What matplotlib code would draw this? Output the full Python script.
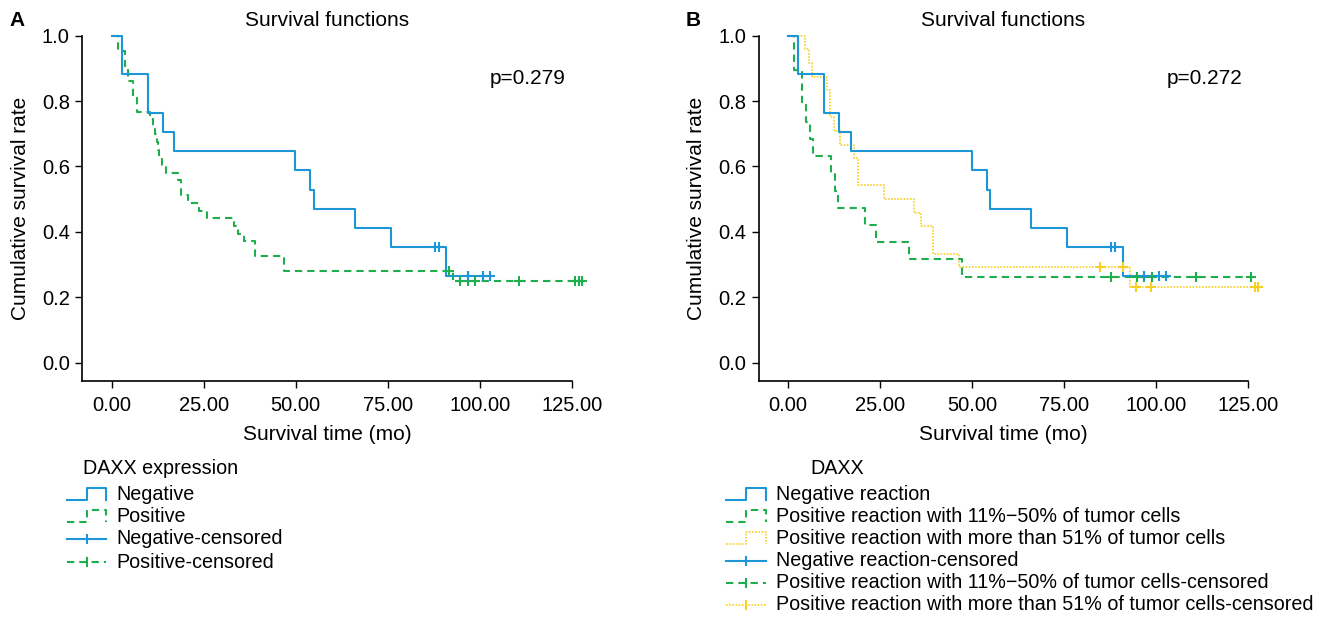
import matplotlib
matplotlib.use("Agg")
import matplotlib.pyplot as plt
from matplotlib.lines import Line2D

plt.rcParams['font.family'] = ['Liberation Sans', 'DejaVu Sans']

# ---------------- data ----------------
x_ticks = [0, 25, 50, 75, 100, 125]
x_tick_labels = ['0.00', '25.00', '50.00', '75.00', '100.00', '125.00']
y_ticks = [0.0, 0.2, 0.4, 0.6, 0.8, 1.0]
y_tick_labels = ['0.0', '0.2', '0.4', '0.6', '0.8', '1.0']

# Panel A / B : negative group (same curve in both panels)
neg_times = [0, 2.7, 9.8, 13.9, 17.0, 49.9, 54.0, 54.9, 66.0, 75.8, 90.9]
neg_surv = [1.0, 0.882, 0.765, 0.706, 0.647, 0.588, 0.529, 0.471, 0.412, 0.353, 0.265]
neg_end = 102.8
neg_cens_t = [87.8, 88.8, 96.7, 100.9, 102.8]
neg_cens_s = [0.353, 0.353, 0.265, 0.265, 0.265]

# Panel A : positive group
pos_times = [0, 1.8, 3.6, 4.5, 5.8, 6.8, 10.5, 11.3, 11.8, 12.2, 12.6, 12.9, 13.7,
             14.8, 17.9, 18.8, 20.8, 23.8, 26.0, 33.2, 34.3, 36.0, 38.9, 46.7, 92.6]
pos_surv = [1.0, 0.953, 0.907, 0.860, 0.814, 0.767, 0.744, 0.721, 0.698, 0.674, 0.651,
            0.628, 0.605, 0.581, 0.558, 0.512, 0.488, 0.465, 0.442, 0.419, 0.395,
            0.372, 0.326, 0.279, 0.251]
pos_end = 128.5
pos_cens_t = [91.6, 94.6, 96.7, 98.6, 110.7, 125.9, 126.9, 127.9]
pos_cens_s = [0.279, 0.251, 0.251, 0.251, 0.251, 0.251, 0.251, 0.251]

# Panel B : positive 11%-50%
p50_times = [0, 1.7, 3.9, 5.0, 5.9, 6.7, 11.7, 12.8, 13.6, 21.0, 24.0, 33.0, 47.3]
p50_surv = [1.0, 0.895, 0.789, 0.737, 0.684, 0.632, 0.579, 0.526, 0.474, 0.421,
            0.368, 0.316, 0.263]
p50_end = 126.3
p50_cens_t = [87.7, 94.7, 96.7, 98.8, 110.8, 125.8]
p50_cens_s = [0.263, 0.263, 0.263, 0.263, 0.263, 0.263]

# Panel B : positive > 51%
p51_times = [0, 4.6, 5.7, 6.6, 10.6, 11.3, 12.5, 14.2, 17.9, 19.0, 26.1, 34.2,
             36.2, 39.3, 46.4, 92.9]
p51_surv = [1.0, 0.958, 0.917, 0.875, 0.833, 0.750, 0.708, 0.667, 0.625, 0.542,
            0.500, 0.458, 0.417, 0.333, 0.292, 0.233]
p51_end = 128.2
p51_cens_t = [84.7, 91.0, 94.6, 98.7, 127.0, 127.8]
p51_cens_s = [0.292, 0.292, 0.233, 0.233, 0.233, 0.233]

p_value_A = 'p=0.279'
p_value_B = 'p=0.272'
legend_title_A = 'DAXX expression'
legend_labels_A = ['Negative', 'Positive', 'Negative-censored', 'Positive-censored']
legend_title_B = 'DAXX'
legend_labels_B = ['Negative reaction',
                   'Positive reaction with 11%\u221250% of tumor cells',
                   'Positive reaction with more than 51% of tumor cells',
                   'Negative reaction-censored',
                   'Positive reaction with 11%\u221250% of tumor cells-censored',
                   'Positive reaction with more than 51% of tumor cells-censored']

# ---------------- style ----------------
W, H = 1333, 619
BLUE = '#1c96d7'
GREEN = '#1fae4c'
YELLOW = '#f7cf22'
SOLID = '-'
DASH = (0, (3.5, 2.4))
DOT = (0, (1.0, 0.9))
LW = 1.5

fig = plt.figure(figsize=(W / 100, H / 100), dpi=100)


def px_axes(l, t, r, b):
    return fig.add_axes([l / W, 1 - b / H, (r - l) / W, (b - t) / H])


def fx(x):
    return x / W


def fy(y):
    return 1 - y / H


axA = px_axes(82.3, 35.7, 571.8, 381)
axB = px_axes(758.6, 35.7, 1248.1, 381)


def style(ax, ptext):
    ax.set_xlim(-8, 125)
    ax.set_ylim(-0.056, 1.0)
    for s in ('top', 'right'):
        ax.spines[s].set_visible(False)
    for s in ('left', 'bottom'):
        ax.spines[s].set_linewidth(1.2)
        ax.spines[s].set_color('black')
    ax.set_xticks(x_ticks)
    ax.set_xticklabels(x_tick_labels)
    ax.set_yticks(y_ticks)
    ax.set_yticklabels(y_tick_labels)
    ax.tick_params(axis='both', length=5, width=1.0, labelsize=14.5, colors='black')
    ax.tick_params(axis='x', pad=6)
    ax.tick_params(axis='y', pad=4)
    ax.set_title('Survival functions', fontsize=15, pad=7)
    ax.set_xlabel('Survival time (mo)', fontsize=15)
    ax.set_ylabel('Cumulative survival rate', fontsize=15)
    ax.xaxis.set_label_coords(0.5, -0.128)
    ax.yaxis.set_label_coords(-0.107, 0.5)
    ax.text(0.833, 0.861, ptext, transform=ax.transAxes, fontsize=15, va='baseline')


def km(ax, t, s, end, ct, cs, color, ls, lw=LW):
    ax.step(list(t) + [end], list(s) + [s[-1]], where='post', color=color,
            linestyle=ls, lw=lw, clip_on=False, zorder=3)
    ax.plot(ct, cs, linestyle='none', marker='+', ms=6.5, mew=1.5, color=color,
            clip_on=False, zorder=4)


style(axA, p_value_A)
style(axB, p_value_B)

km(axA, pos_times, pos_surv, pos_end, pos_cens_t, pos_cens_s, GREEN, DASH)
km(axA, neg_times, neg_surv, neg_end, neg_cens_t, neg_cens_s, BLUE, SOLID)

km(axB, p51_times, p51_surv, p51_end, p51_cens_t, p51_cens_s, YELLOW, DOT, lw=1.2)
km(axB, p50_times, p50_surv, p50_end, p50_cens_t, p50_cens_s, GREEN, DASH)
km(axB, neg_times, neg_surv, neg_end, neg_cens_t, neg_cens_s, BLUE, SOLID)

# panel letters
fig.text(fx(9), fy(20), 'A', fontsize=15, fontweight='bold', va='center', ha='left')
fig.text(fx(686), fy(20), 'B', fontsize=15, fontweight='bold', va='center', ha='left')


# ---------------- legends (drawn manually, SPSS style) ----------------
def step_handle(x0, x1, yc, color, ls, lw=LW):
    xm = (x0 + x1) / 2
    xs = [x0, xm, xm, x1, x1]
    ys = [yc + 5, yc + 5, yc - 7, yc - 7, yc + 5]
    fig.add_artist(Line2D([fx(v) for v in xs], [fy(v) for v in ys], color=color,
                          linestyle=ls, lw=lw, transform=fig.transFigure))


def cens_handle(x0, x1, yc, color, ls, lw=LW):
    xm = (x0 + x1) / 2
    fig.add_artist(Line2D([fx(x0), fx(x1)], [fy(yc), fy(yc)], color=color,
                          linestyle=ls, lw=lw, transform=fig.transFigure))
    fig.add_artist(Line2D([fx(xm), fx(xm)], [fy(yc - 4), fy(yc + 4)], color=color,
                          lw=1.5, transform=fig.transFigure))


LEG_FS = 14.2
# Legend A
fig.text(fx(83), fy(469), legend_title_A, fontsize=LEG_FS, va='center', ha='left')
ys_A = [495, 517, 539, 562]
stylesA = [('step', BLUE, SOLID), ('step', GREEN, DASH),
           ('cens', BLUE, SOLID), ('cens', GREEN, DASH)]
for lab, yc, (kind, col, ls) in zip(legend_labels_A, ys_A, stylesA):
    if kind == 'step':
        step_handle(67, 106, yc, col, ls)
    else:
        cens_handle(67, 106, yc, col, ls)
    fig.text(fx(116.5), fy(yc), lab, fontsize=LEG_FS, va='center', ha='left')

# Legend B
fig.text(fx(810), fy(468), legend_title_B, fontsize=LEG_FS, va='center', ha='left')
ys_B = [495, 517, 539, 561, 583, 605]
stylesB = [('step', BLUE, SOLID, LW), ('step', GREEN, DASH, LW), ('step', YELLOW, DOT, 1.2),
           ('cens', BLUE, SOLID, LW), ('cens', GREEN, DASH, LW), ('cens', YELLOW, DOT, 1.2)]
for lab, yc, (kind, col, ls, lw) in zip(legend_labels_B, ys_B, stylesB):
    if kind == 'step':
        step_handle(726, 766, yc, col, ls, lw)
    else:
        cens_handle(726, 766, yc, col, ls, lw)
    fig.text(fx(776.5), fy(yc), lab, fontsize=LEG_FS, va='center', ha='left')

fig.savefig('out.png', dpi=100)
